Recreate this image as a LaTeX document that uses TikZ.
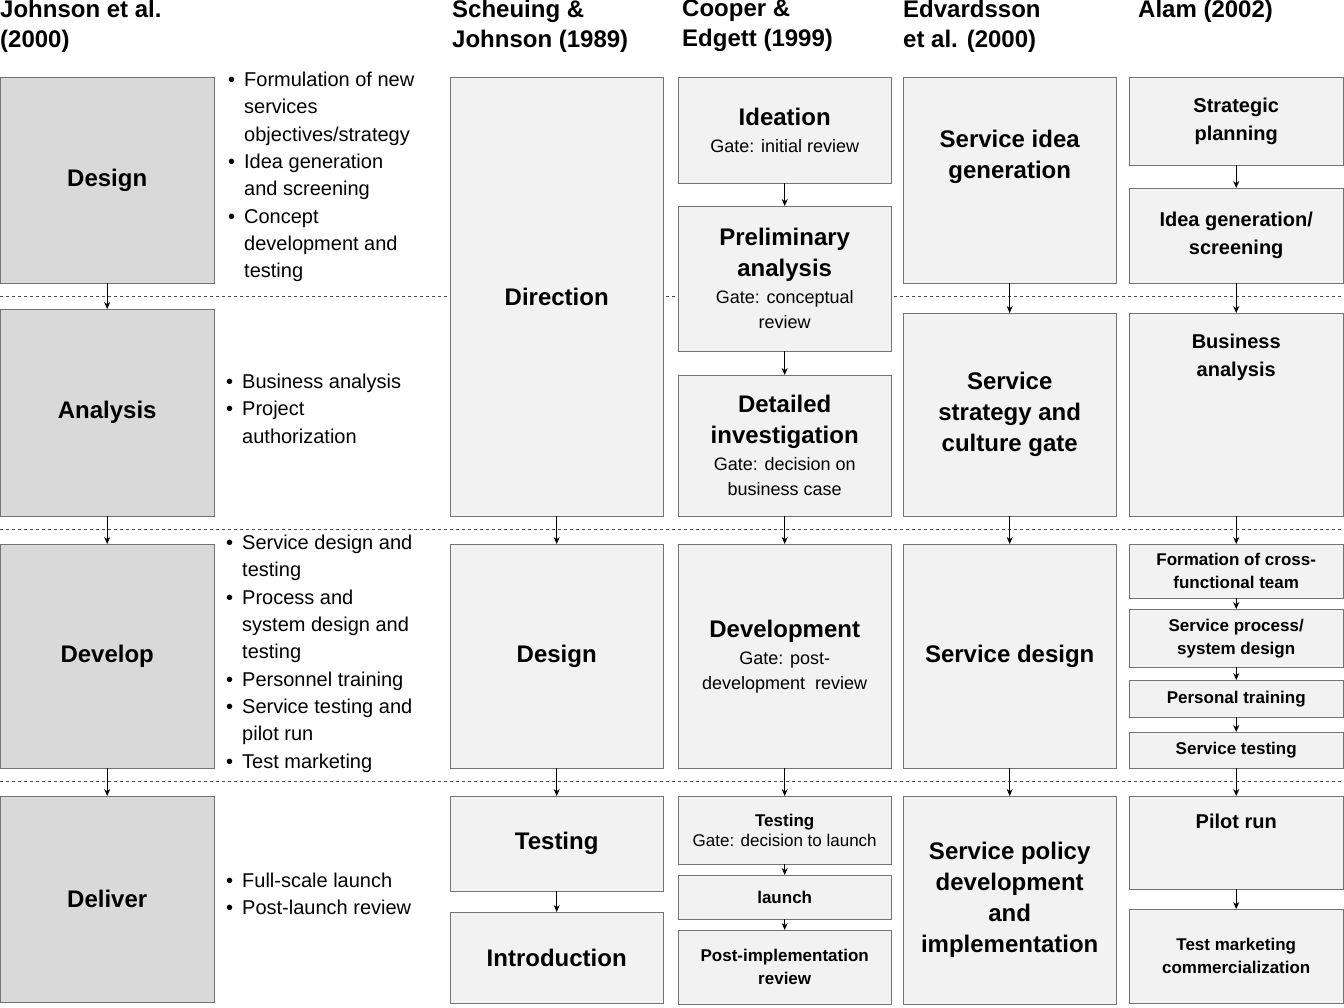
\documentclass[tikz,border=0pt]{standalone}
\usepackage{fontspec}
\setmainfont{Liberation Sans}
\usetikzlibrary{arrows.meta}
\newcommand{\bl}{\makebox[16pt][l]{\textbullet}}
\newcommand{\ind}{\hspace*{16pt}}
\newcommand{\gt}{\fontsize{18}{25}\selectfont\mdseries}
\begin{document}
\begin{tikzpicture}[x=1pt,y=-1pt,
  box/.style={draw=black!55, fill=black!5, anchor=north west, align=center, inner sep=2pt},
  dbox/.style={box, fill=black!15},
  big/.style={font=\fontsize{24}{31}\selectfont\bfseries},
  mid/.style={font=\fontsize{20}{28}\selectfont\bfseries},
  sml/.style={font=\fontsize{17}{23}\selectfont\bfseries},
  txt/.style={anchor=north west, align=left, inner sep=0pt, font=\fontsize{20}{27.3}\selectfont},
  hd/.style={anchor=north west, align=left, inner sep=0pt, font=\fontsize{24}{30}\selectfont\bfseries},
  arr/.style={-{Stealth[length=7pt,width=6pt]}, thick}]
\useasboundingbox (0,0) rectangle (1344,1008);
% phase separators
\foreach \yy in {296,529,781}
  \draw[dashed, black!70] (0,\yy) -- (1344,\yy);
% headings
\node[hd] (h1) at (0,0) {Johnson et al.\\(2000)};
\node[hd] (h2) at (452,0) {Scheuing \&\\Johnson (1989)};
\node[hd] (h3) at (682,0) {Cooper \&\\Edgett (1999)};
\node[hd] (h4) at (903,0) {Edvardsson\\et al. (2000)};
\node[hd] (h5) at (1138,0) {Alam (2002)};
% Johnson et al.
\node[dbox, big, minimum width=214pt, minimum height=206pt] (jdes) at (0,77) {Design};
\node[dbox, big, minimum width=214pt, minimum height=207pt] (jana) at (0,309) {Analysis};
\node[dbox, big, minimum width=214pt, minimum height=224pt] (jdev) at (0,544) {Develop};
\node[dbox, big, minimum width=214pt, minimum height=206pt] (jdel) at (0,796) {Deliver};
\node[txt] (tdes) at (228,72) {\bl Formulation of new\\\ind services\\\ind objectives/strategy\\\bl Idea generation\\\ind and screening\\\bl Concept\\\ind development and\\\ind testing};
\node[txt] (tana) at (226,374) {\bl Business analysis\\\bl Project\\\ind authorization};
\node[txt] (tdev) at (226,535) {\bl Service design and\\\ind testing\\\bl Process and\\\ind system design and\\\ind testing\\\bl Personnel training\\\bl Service testing and\\\ind pilot run\\\bl Test marketing};
\node[txt] (tdel) at (226,873) {\bl Full-scale launch\\\bl Post-launch review};
% Scheuing & Johnson
\node[box, big, minimum width=213pt, minimum height=439pt] (sdir) at (450,77) {Direction};
\node[box, big, minimum width=213pt, minimum height=224pt] (sdes) at (450,544) {Design};
\node[box, big, minimum width=213pt, minimum height=95pt] (stes) at (450,796) {Testing};
\node[box, big, minimum width=213pt, minimum height=91pt] (sint) at (450,912) {Introduction};
% Cooper & Edgett
\node[box, big, minimum width=213pt, minimum height=106pt] (cide) at (678,77) {Ideation\\[-4pt]{\gt Gate: initial review}};
\node[box, big, minimum width=213pt, minimum height=145pt] (cpre) at (678,206) {Preliminary\\analysis\\[-4pt]{\gt Gate: conceptual}\\[-6pt]{\gt review}};
\node[box, big, minimum width=213pt, minimum height=141pt] (cdet) at (678,375) {Detailed\\investigation\\[-4pt]{\gt Gate: decision on}\\[-6pt]{\gt business case}};
\node[box, big, minimum width=213pt, minimum height=224pt] (cdev) at (678,544) {Development\\[-4pt]{\gt Gate: post-}\\[-6pt]{\gt development\ \ review}};
\node[box, sml, minimum width=213pt, minimum height=68pt] (ctes) at (678,796) {Testing\\[-3pt]{\mdseries Gate: decision to launch}};
\node[box, sml, minimum width=213pt, minimum height=44pt] (clau) at (678,875) {launch};
\node[box, sml, minimum width=213pt, minimum height=74pt] (cpos) at (678,930) {Post-implementation\\review};
% Edvardsson et al.
\node[box, big, minimum width=213pt, minimum height=206pt] (eidea) at (903,77) {Service idea\\generation\\[20pt]};
\node[box, big, minimum width=213pt, minimum height=203pt] (estr) at (903,313) {Service\\strategy and\\culture gate};
\node[box, big, minimum width=213pt, minimum height=224pt] (edes) at (903,544) {Service design};
\node[box, big, minimum width=213pt, minimum height=208pt] (epol) at (903,796) {Service policy\\development\\and\\implementation};
% Alam
\node[box, mid, minimum width=214pt, minimum height=88pt] (astr) at (1129,77) {Strategic\\planning};
\node[box, mid, minimum width=214pt, minimum height=95pt] (aide) at (1129,188) {Idea generation/\\screening};
\node[box, mid, minimum width=214pt, minimum height=203pt] (abus) at (1129,313) {Business\\analysis\\[90pt]};
\node[box, sml, minimum width=214pt, minimum height=54pt] (afor) at (1129,544) {Formation of cross-\\functional team};
\node[box, sml, minimum width=214pt, minimum height=58pt] (aser) at (1129,609) {Service process/\\system design};
\node[box, sml, minimum width=214pt, minimum height=37pt] (aper) at (1129,680) {Personal training};
\node[box, sml, minimum width=214pt, minimum height=36pt] (atst) at (1129,732) {Service testing};
\node[box, mid, minimum width=214pt, minimum height=93pt] (apil) at (1129,796) {Pilot run\\[14pt]};
\node[box, sml, minimum width=214pt, minimum height=94pt] (atmk) at (1129,909) {Test marketing\\commercialization};
% arrows
\foreach \a/\b in {jdes/jana,jana/jdev,jdev/jdel,sdir/sdes,sdes/stes,stes/sint,
  cide/cpre,cpre/cdet,cdet/cdev,cdev/ctes,ctes/clau,clau/cpos,
  eidea/estr,estr/edes,edes/epol,
  astr/aide,aide/abus,abus/afor,afor/aser,aser/aper,aper/atst,atst/apil,apil/atmk}
  \draw[arr] (\a.south) -- (\b.north);
\end{tikzpicture}
\end{document}
